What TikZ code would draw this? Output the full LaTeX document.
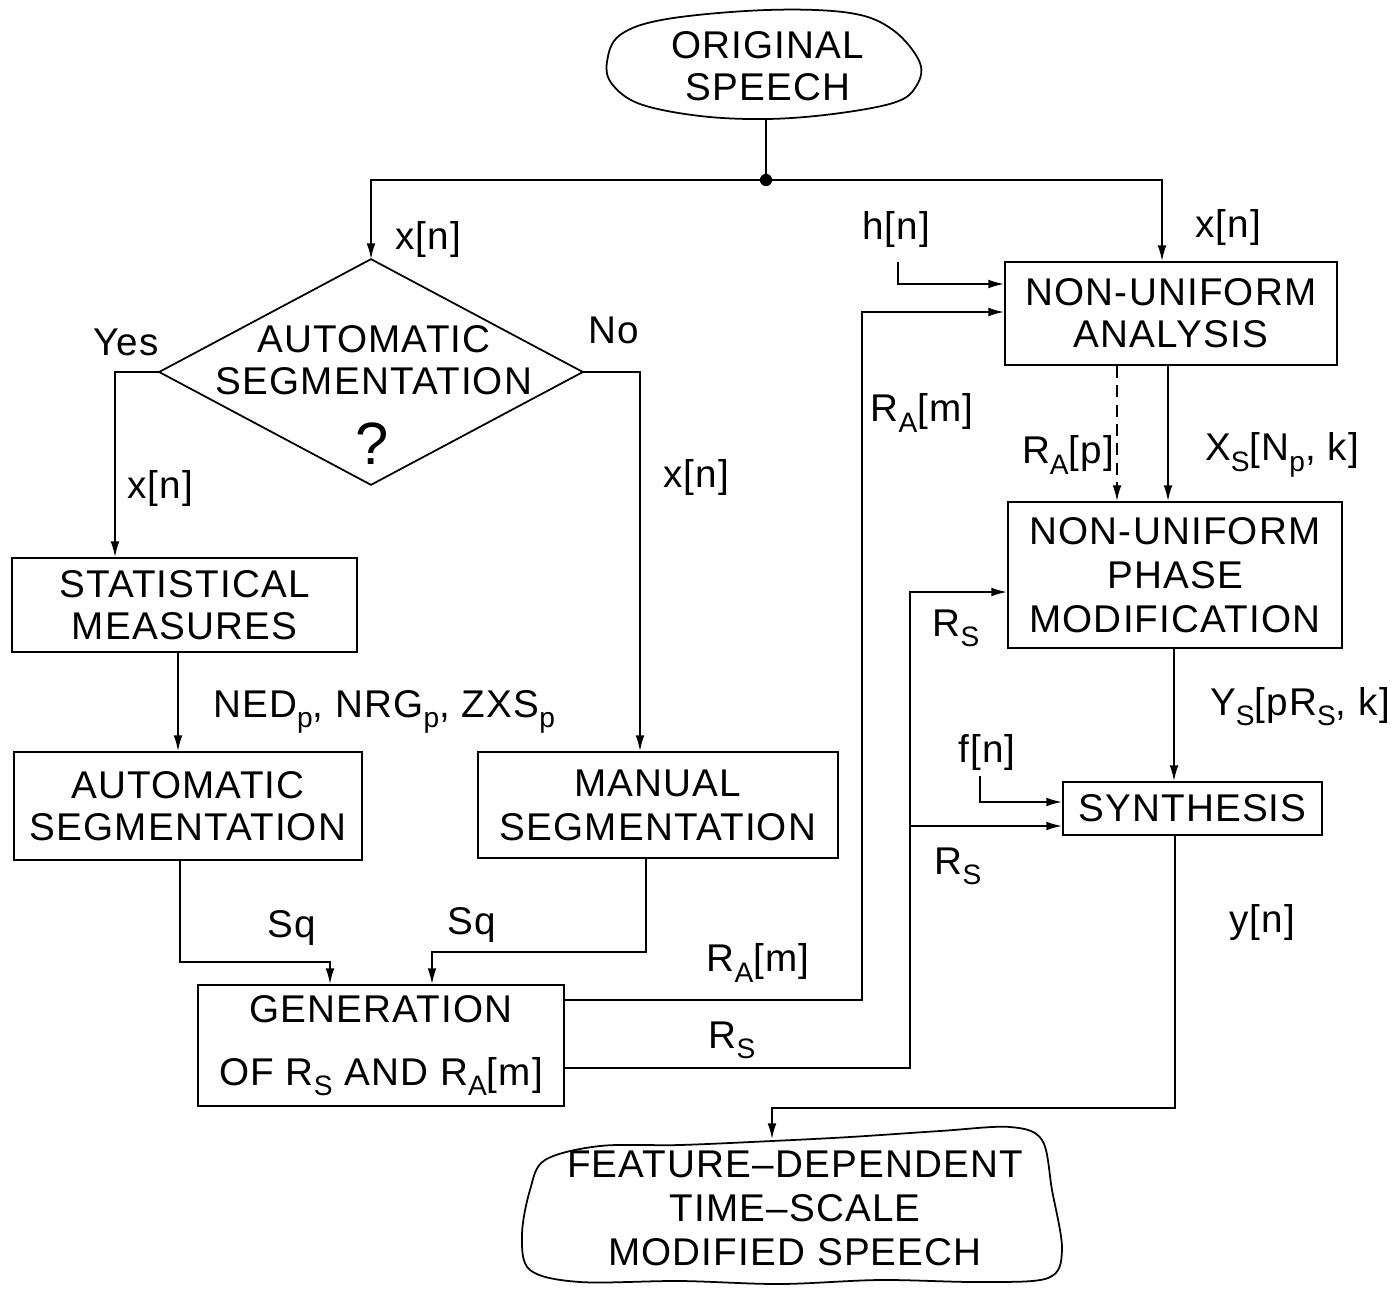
\documentclass[tikz,border=0pt]{standalone}
\usepackage{fontspec}
\setmainfont[LetterSpace=3]{Liberation Sans}
\usetikzlibrary{arrows.meta}
% lowered, smaller index letters (R_A, X_S, NED_p ...)
\newcommand{\sbs}[1]{\raisebox{-0.5ex}{\fontsize{16}{16}\selectfont #1}}
\begin{document}
\begin{tikzpicture}[x=0.02cm,y=-0.02cm,
  every node/.style={font=\fontsize{22}{24}\selectfont, inner sep=0pt},
  line width=1pt,
  blk/.style={draw, rectangle, align=center},
  ghost/.style={rectangle, align=center},
  arr/.style={-{Latex[length=9pt,width=5pt]}},
]
\useasboundingbox (0,0) rectangle (1396,1288);

% ---- terminals (hand-drawn outlines) ----
\node[ghost, minimum width=6.2cm, minimum height=2.16cm] (orig) at (766,64) {};
\node[ghost] (origtxt) at (768,66) {ORIGINAL\\[0pt]SPEECH};
\draw plot[smooth cycle, tension=0.6] coordinates {(607,62) (620,35) (667,19) (767,10) (850,13) (893,30) (920,63) (915,88) (893,103) (833,114) (767,119) (700,116) (640,104) (612,84)};

\node[ghost, minimum width=10.8cm, minimum height=2.88cm] (fin) at (792,1212) {};
\node[ghost] (fintxt) at (795,1208) {FEATURE--DEPENDENT\\[1pt]TIME--SCALE\\[1pt]MODIFIED SPEECH};
\draw plot[smooth cycle, tension=0.55] coordinates {(545,1160) (600,1146) (680,1145) (772,1141) (850,1137) (940,1131) (1010,1127) (1042,1140) (1052,1190) (1062,1250) (1048,1278) (980,1282) (880,1280) (780,1284) (680,1281) (580,1282) (530,1270) (522,1235) (530,1190)};

% ---- decision ----
\node[ghost, minimum width=8.44cm, minimum height=4.48cm] (dec) at (371,372) {};
\draw (dec.north) -- (dec.east) -- (dec.south) -- (dec.west) -- cycle;
\node[ghost] (dectxt) at (374,360) {AUTOMATIC\\[0pt]SEGMENTATION};
\node[ghost, font=\fontsize{34}{34}\selectfont] (q) at (372,444) {?};

% ---- process blocks ----
\node[blk, minimum width=6.9cm, minimum height=1.88cm] (stat) at (184.5,605) {STATISTICAL\\[0pt]MEASURES};
\node[blk, minimum width=6.96cm, minimum height=2.16cm] (auto) at (188,806) {AUTOMATIC\\[0pt]SEGMENTATION};
\node[blk, minimum width=7.2cm, minimum height=2.12cm] (man) at (658,805) {MANUAL\\[1pt]SEGMENTATION};
\node[blk, minimum width=7.32cm, minimum height=2.42cm] (gen) at (381,1045.5) {GENERATION\\[12pt]OF R\sbs{S} AND R\sbs{A}[m]};
\node[blk, minimum width=6.64cm, minimum height=2.06cm] (nua) at (1171,313.5) {NON-UNIFORM\\[0pt]ANALYSIS};
\node[blk, minimum width=6.68cm, minimum height=2.92cm] (nupm) at (1175,575) {NON-UNIFORM\\[1pt]PHASE\\[1pt]MODIFICATION};
\node[blk, minimum width=5.18cm, minimum height=1.06cm] (syn) at (1192.5,808.5) {SYNTHESIS};

% ---- routing points ----
\coordinate (split) at (766,180);
\coordinate (xa) at (1162,180);
\coordinate (yesx) at (115,0);
\coordinate (nox) at (640,0);
\coordinate (sqa) at (180,0);
\coordinate (sqb) at (646,0);
\coordinate (ga) at (330,962);
\coordinate (gb) at (432,952);
\coordinate (ra) at (862,1000);
\coordinate (ra2) at (862,312);
\coordinate (rs) at (910,1068);
\coordinate (rs2) at (910,592);
\coordinate (rs3) at (910,826);
\coordinate (hn) at (898,262);
\coordinate (hn2) at (898,284);
\coordinate (fn) at (980,776);
\coordinate (fn2) at (980,802);
\coordinate (nsx) at (178,0);
\coordinate (dsh) at (1117,0);
\coordinate (sol) at (1168,0);
\coordinate (ysx) at (1174,0);
\coordinate (yb) at (1175,1108);
\coordinate (yc) at (772,1108);

% ---- connectors ----
\draw (orig.south) -- (split);
\fill (split) circle[radius=3.5pt];
\draw[arr] (split) -| (dec.north);
\draw[arr] (split) -- (xa) -- (nua.north -| xa);

\draw[arr] (dec.west) -| (stat.north -| yesx);
\draw[arr] (dec.east) -| (man.north -| nox);
\draw[arr] (stat.south -| nsx) -- (auto.north -| nsx);
\draw[arr] (auto.south -| sqa) |- (ga) -- (gen.north -| ga);
\draw[arr] (man.south -| sqb) |- (gb) -- (gen.north -| gb);

\draw[arr] (gen.east |- ra) -- (ra) -- (ra2) -- (nua.west |- ra2);
\draw[arr] (gen.east |- rs) -- (rs) -- (rs2) -- (nupm.west |- rs2);
\draw[arr] (rs3) -- (syn.west |- rs3);
\draw[arr] (hn) -- (hn2) -- (nua.west |- hn2);
\draw[arr] (fn) -- (fn2) -- (syn.west |- fn2);

\draw[arr, dashed, dash pattern=on 7pt off 4pt] (nua.south -| dsh) -- (nupm.north -| dsh);
\draw[arr] (nua.south -| sol) -- (nupm.north -| sol);
\draw[arr] (nupm.south -| ysx) -- (syn.north -| ysx);
\draw[arr] (syn.south -| yb) -- (yb) -- (yc) -- (fin.north -| yc);

% ---- signal labels ----
\node (l1) at (428,240) {x[n]};
\node (l2) at (1228,228) {x[n]};
\node (l3) at (896,230) {h[n]};
\node (l4) at (126,342) {Yes};
\node (l5) at (614,330) {No};
\node (l6) at (160,488) {x[n]};
\node (l7) at (696,478) {x[n]};
\node (l8) at (384,712) {NED\sbs{p}, NRG\sbs{p}, ZXS\sbs{p}};
\node (l9) at (292,928) {Sq};
\node (l10) at (472,925) {Sq};
\node (l11) at (758,963) {R\sbs{A}[m]};
\node (l12) at (732,1040) {R\sbs{S}};
\node (l13) at (922,413) {R\sbs{A}[m]};
\node (l14) at (1068,455) {R\sbs{A}[p]};
\node (l15) at (1282,455) {X\sbs{S}[N\sbs{p}, k]};
\node (l16) at (956,628) {R\sbs{S}};
\node (l17) at (1300,707) {Y\sbs{S}[pR\sbs{S}, k]};
\node (l18) at (987,752) {f[n]};
\node (l19) at (958,866) {R\sbs{S}};
\node (l20) at (1262,922) {y[n]};
\end{tikzpicture}
\end{document}
